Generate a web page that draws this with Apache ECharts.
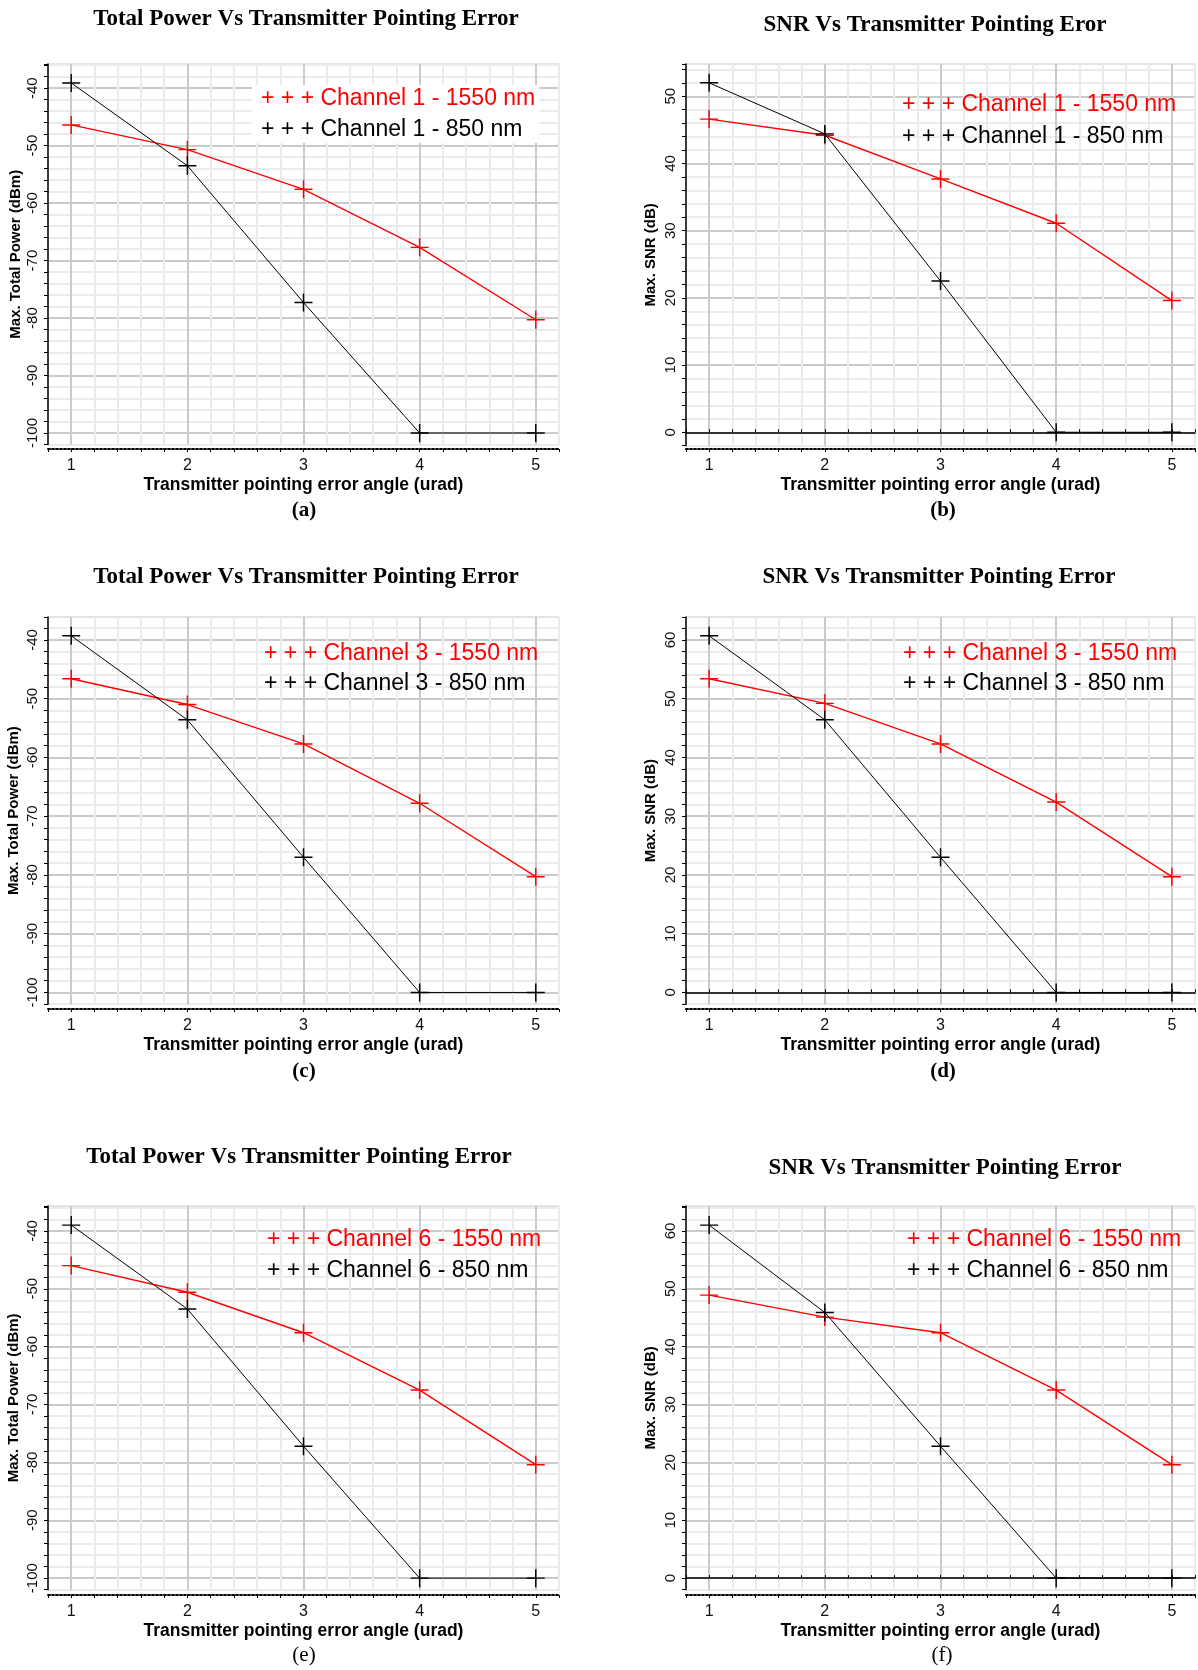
<!DOCTYPE html>
<html><head><meta charset="utf-8">
<script src="https://cdn.jsdelivr.net/npm/echarts@6/dist/echarts.min.js"></script>
<style>html,body{margin:0;padding:0;background:#fff}#c{width:1198px;height:1670px}</style>
</head><body><div id="c"></div>
<script>
// ---------------- DATA ----------------
const xValues = [1, 2, 3, 4, 5];

const powerCh1_1550 = [-46.4, -50.7, -57.6, -67.7, -80.3];
const powerCh1_850  = [-39.1, -53.5, -77.3, -100, -100];
const snrCh1_1550   = [46.6, 44.2, 37.7, 31.1, 19.6];
const snrCh1_850    = [52.0, 44.4, 22.5, 0, 0];

const powerCh3_1550 = [-46.6, -51.0, -57.7, -67.8, -80.3];
const powerCh3_850  = [-39.3, -53.6, -77.0, -100, -100];
const snrCh3_1550   = [53.4, 49.2, 42.3, 32.4, 19.7];
const snrCh3_850    = [60.7, 46.4, 23.0, 0, 0];

const powerCh6_1550 = [-46.0, -50.6, -57.6, -67.5, -80.4];
const powerCh6_850  = [-39.0, -53.5, -77.2, -100, -100];
const snrCh6_1550   = [48.9, 45.1, 42.4, 32.5, 19.6];
const snrCh6_850    = [61.0, 45.9, 22.8, 0, 0];

const titles = [
  'Total Power Vs Transmitter Pointing Error',
  'SNR Vs Transmitter Pointing Eror',
  'Total Power Vs Transmitter Pointing Error',
  'SNR Vs Transmitter Pointing Error',
  'Total Power Vs Transmitter Pointing Error',
  'SNR Vs Transmitter Pointing Error'
];
const captions = ['(a)', '(b)', '(c)', '(d)', '(e)', '(f)'];
const legendNames = [
  ['Channel 1 - 1550 nm', 'Channel 1 - 850 nm'],
  ['Channel 1 - 1550 nm', 'Channel 1 - 850 nm'],
  ['Channel 3 - 1550 nm', 'Channel 3 - 850 nm'],
  ['Channel 3 - 1550 nm', 'Channel 3 - 850 nm'],
  ['Channel 6 - 1550 nm', 'Channel 6 - 850 nm'],
  ['Channel 6 - 1550 nm', 'Channel 6 - 850 nm']
];
const yNames = ['Max. Total Power (dBm)', 'Max. SNR (dB)', 'Max. Total Power (dBm)', 'Max. SNR (dB)', 'Max. Total Power (dBm)', 'Max. SNR (dB)'];
const xName = 'Transmitter pointing error angle (urad)';
const legendPrefix = '+ + + ';

const panelSeries = [
  [powerCh1_1550, powerCh1_850],
  [snrCh1_1550, snrCh1_850],
  [powerCh3_1550, powerCh3_850],
  [snrCh3_1550, snrCh3_850],
  [powerCh6_1550, powerCh6_850],
  [snrCh6_1550, snrCh6_850]
];

// ---------------- LAYOUT / STYLE ----------------
const layout = [
  {left:48,  top:64,   width:511, height:380.5, ymin:-102, ymax:-35.8, off:4.5, yGap:24.5, tx:306, ty:20,   cx:304, cy:511,  lx:252, ly:85,   lgap:8,  zero:false, box:true,  capBold:true},
  {left:686, top:64,   width:513, height:381.7, ymin:-2,   ymax:54.8,  off:3.3, yGap:27.5, tx:935, ty:26,   cx:943, cy:511,  lx:893, ly:91,   lgap:9,  zero:true,  box:false, capBold:true},
  {left:48,  top:617,  width:511, height:387.2, ymin:-102, ymax:-36.1, off:4.8, yGap:26.5, tx:306, ty:578,  cx:304, cy:1072, lx:255, ly:640,  lgap:7,  zero:false, box:false, capBold:true},
  {left:686, top:617,  width:513, height:387.2, ymin:-2,   ymax:63.9,  off:4.8, yGap:27.5, tx:939, ty:578,  cx:943, cy:1072, lx:894, ly:640,  lgap:7,  zero:true,  box:false, capBold:true},
  {left:48,  top:1206, width:511, height:383.7, ymin:-102, ymax:-35.7, off:5.3, yGap:26.5, tx:299, ty:1158, cx:304, cy:1656, lx:258, ly:1226, lgap:8,  zero:false, box:false, capBold:false},
  {left:686, top:1206, width:513, height:383.7, ymin:-2,   ymax:64.3,  off:5.3, yGap:28,   tx:945, ty:1169, cx:942, cy:1656, lx:898, ly:1226, lgap:8,  zero:true,  box:false, capBold:false}
];

const RED = '#ff0000', BLACK = '#000000';
const MAJOR = '#cacaca', MINOR = '#ebebeb';
const splitColors = [MINOR, MAJOR, MINOR, MINOR, MINOR];
const plusPath = 'path://M-1,-0.08L1,-0.08L1,0.08L-1,0.08Z M-0.08,-1L0.08,-1L0.08,1L-0.08,1Z';
const SANS = 'Liberation Sans, Arial, sans-serif';
const SERIF = 'Liberation Serif, Times New Roman, serif';

function isMult(v, m) { const r = v / m; return Math.abs(r - Math.round(r)) < 1e-6; }

const option = {
  animation: false,
  backgroundColor: '#fff',
  grid: [], xAxis: [], yAxis: [], series: [], title: [], legend: []
};

layout.forEach((L, i) => {
  option.grid.push({left: L.left, top: L.top, width: L.width, height: L.height,
    show: true, borderColor: '#c8c8c8', borderWidth: 1, backgroundColor: 'transparent', containLabel: false});

  const xBottomIdx = option.xAxis.length;
  option.xAxis.push({
    type: 'value', gridIndex: i, position: 'bottom', min: 0.8, max: 5.2, interval: 0.2,
    offset: L.off,
    name: xName, nameLocation: 'middle', nameGap: 27.5,
    nameTextStyle: {fontFamily: SANS, fontWeight: 'bold', fontSize: 17.5, color: '#000'},
    axisLine: {show: true, onZero: false, lineStyle: {color: '#000', width: 2, type: 'dotted'}},
    axisTick: {show: true, length: 3, lineStyle: {color: '#000', width: 1}},
    axisLabel: {show: true, margin: 9, fontFamily: SANS, fontSize: 16, color: '#111',
      formatter: v => (isMult(v, 1) && v >= 1 && v <= 5) ? String(Math.round(v)) : ''},
    splitLine: {show: true, lineStyle: {color: splitColors, width: 2}},
    minorTick: {show: false}
  });
  if (L.zero) {
    option.xAxis.push({
      type: 'value', gridIndex: i, position: 'top', min: 0.8, max: 5.2, interval: 0.2,
      axisLine: {show: true, onZero: true, lineStyle: {color: '#000', width: 1.5}},
      axisTick: {show: true, length: 3, inside: false, lineStyle: {color: '#000', width: 1}},
      axisLabel: {show: false}, splitLine: {show: false}
    });
  }
  option.yAxis.push({
    type: 'value', gridIndex: i, min: L.ymin, max: L.ymax, interval: 2,
    name: yNames[i], nameLocation: 'middle', nameGap: L.yGap,
    nameTextStyle: {fontFamily: SANS, fontWeight: 'bold', fontSize: 15, color: '#000'},
    axisLine: {show: true, onZero: false, lineStyle: {color: '#000', width: 1.5}},
    axisTick: {show: true, length: 4, lineStyle: {color: '#000', width: 1}},
    axisLabel: {show: true, rotate: 90, margin: 8, fontFamily: SANS, fontSize: 15, color: '#111',
      formatter: v => isMult(v, 10) ? String(Math.round(v)) : ''},
    splitLine: {show: true, showMaxLine: false, lineStyle: {color: splitColors, width: 2}}
  });

  const names = legendNames[i];
  const colors = [RED, BLACK];
  panelSeries[i].forEach((vals, k) => {
    option.series.push({
      type: 'line', name: names[k], xAxisIndex: xBottomIdx, yAxisIndex: i,
      data: xValues.map((x, j) => [x, vals[j]]),
      symbol: plusPath, symbolSize: 18, showAllSymbol: true,
      itemStyle: {color: colors[k]},
      lineStyle: {color: colors[k], width: k === 0 ? 1.4 : 1},
      z: k === 0 ? 3 : 4
    });
  });

  option.title.push({
    text: titles[i], left: L.tx, top: L.ty - 12, textAlign: 'center', padding: 0,
    textStyle: {fontFamily: SERIF, fontWeight: 'bold', fontSize: 23, color: '#000'}
  });
  option.title.push({
    text: captions[i], left: L.cx, top: L.cy - 11, textAlign: 'center', padding: 0,
    textStyle: {fontFamily: SERIF, fontWeight: L.capBold ? 'bold' : 'normal', fontSize: 21, color: '#000'}
  });

  option.legend.push({
    orient: 'vertical', left: L.lx, top: L.ly, padding: [2, 4],
    itemGap: L.lgap, itemWidth: 0, itemHeight: 20, icon: 'none',
    selectedMode: false,
    backgroundColor: L.box ? '#ffffff' : 'transparent',
    formatter: n => legendPrefix + n,
    textStyle: {fontFamily: SANS, fontSize: 23, lineHeight: 23},
    data: [
      {name: names[0], textStyle: {color: RED}},
      {name: names[1], textStyle: {color: BLACK}}
    ]
  });
});

const chart = echarts.init(document.getElementById('c'), null, {renderer: 'canvas'});
chart.setOption(option);
</script></body></html>
